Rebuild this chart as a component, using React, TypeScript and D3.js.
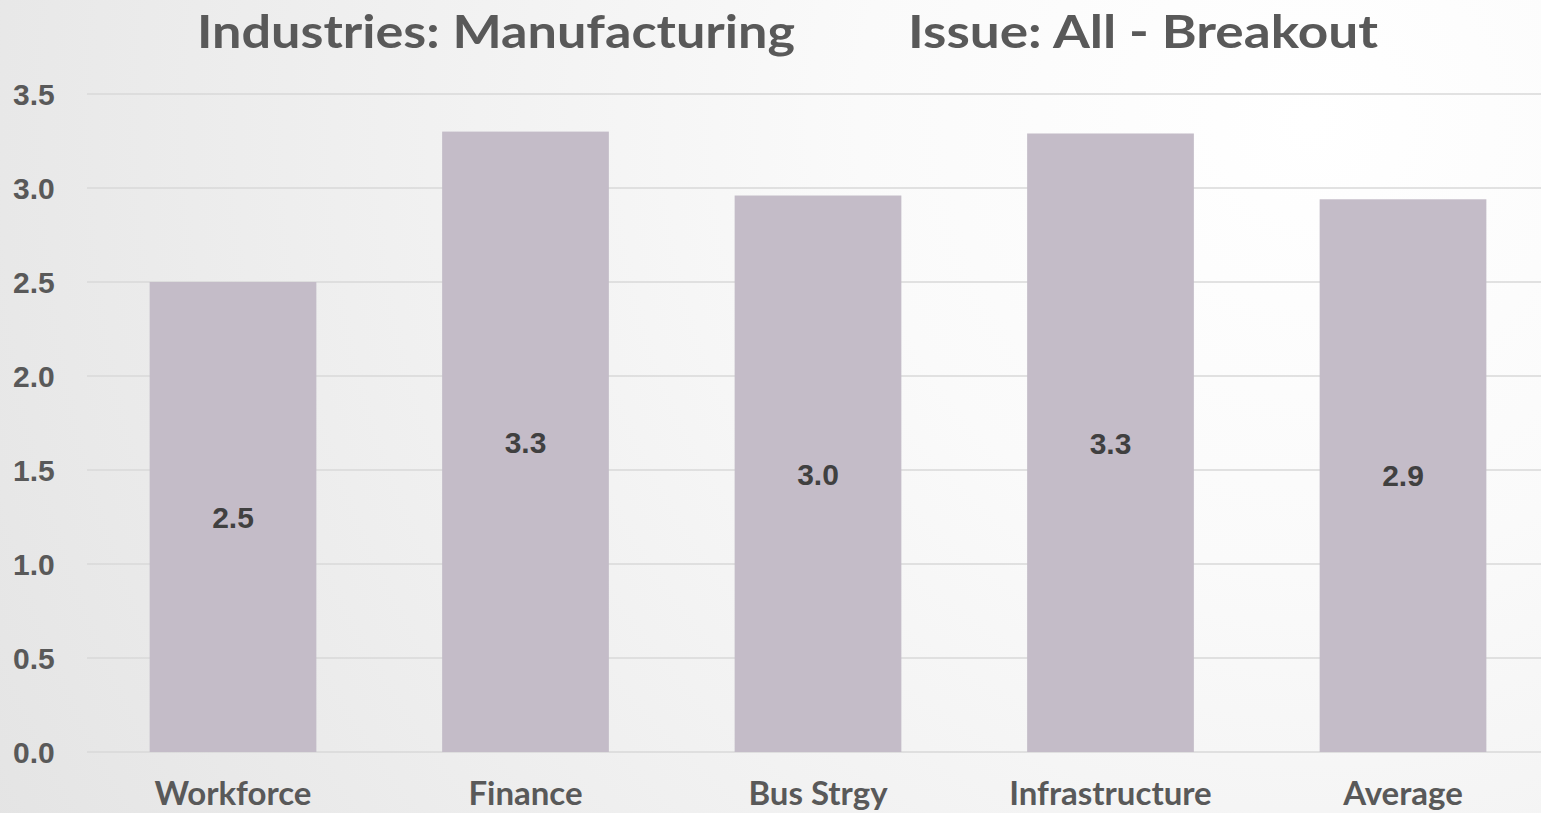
import React from "react";
import * as d3 from "d3";

const categories = ["Workforce", "Finance", "Bus Strgy", "Infrastructure", "Average"];
const values = [2.5, 3.3, 2.96, 3.29, 2.94];
const yTicks = [0, 0.5, 1, 1.5, 2, 2.5, 3, 3.5];
const titleLeft = "Industries: Manufacturing";
const titleRight = "Issue: All - Breakout";

const W = 1541;
const H = 813;

export default function App() {
  const x = d3
    .scaleBand<string>()
    .domain(categories)
    .range([86.75, 1549.25])
    .paddingInner(0.43)
    .paddingOuter(0.215);
  const y = d3.scaleLinear().domain([0, 3.5]).range([752, 94]);
  const gothic = "'Century Gothic', Lato, 'Open Sans', sans-serif";
  const arial = "Arial, 'Liberation Sans', sans-serif";

  return (
    <svg
      width={W}
      height={H}
      style={{ position: "absolute", left: 0, top: 0, display: "block" }}
    >
      <defs>
        <radialGradient id="bg" cx={W * 0.85} cy={H * 0.15} r={1500} gradientUnits="userSpaceOnUse">
          <stop offset="0" stopColor="#ffffff" />
          <stop offset="0.3" stopColor="#fafafa" />
          <stop offset="1" stopColor="#e4e4e4" />
        </radialGradient>
      </defs>
      <rect x={0} y={0} width={W} height={H} fill="url(#bg)" />

      <text
        x={197}
        y={48}
        fontFamily={gothic}
        fontWeight={700}
        fontSize={46}
        fill="#595959"
        textLength={598}
        lengthAdjust="spacingAndGlyphs"
      >
        {titleLeft}
      </text>
      <text
        x={908}
        y={48}
        fontFamily={gothic}
        fontWeight={700}
        fontSize={46}
        fill="#595959"
        textLength={470}
        lengthAdjust="spacingAndGlyphs"
      >
        {titleRight}
      </text>

      {yTicks.map((t) => (
        <g key={t}>
          <line x1={87} x2={W} y1={y(t)} y2={y(t)} stroke="#d9d9d9" strokeWidth={1.5} />
          <text
            x={13}
            y={y(t)}
            dy="0.36em"
            fontFamily={arial}
            fontWeight={700}
            fontSize={30}
            fill="#595959"
          >
            {t.toFixed(1)}
          </text>
        </g>
      ))}

      {categories.map((c, i) => {
        const x0 = x(c) as number;
        const bw = x.bandwidth();
        const top = y(values[i]);
        const bottom = y(0);
        return (
          <g key={c}>
            <rect x={x0} y={top} width={bw} height={bottom - top} fill="#c4bcc8" />
            <text
              x={x0 + bw / 2}
              y={(top + bottom) / 2}
              dy="0.36em"
              textAnchor="middle"
              fontFamily={arial}
              fontWeight={700}
              fontSize={30}
              fill="#404040"
            >
              {values[i].toFixed(1)}
            </text>
            <text
              x={x0 + bw / 2}
              y={805}
              textAnchor="middle"
              fontFamily={gothic}
              fontWeight={700}
              fontSize={33}
              fill="#595959"
            >
              {c}
            </text>
          </g>
        );
      })}
    </svg>
  );
}
